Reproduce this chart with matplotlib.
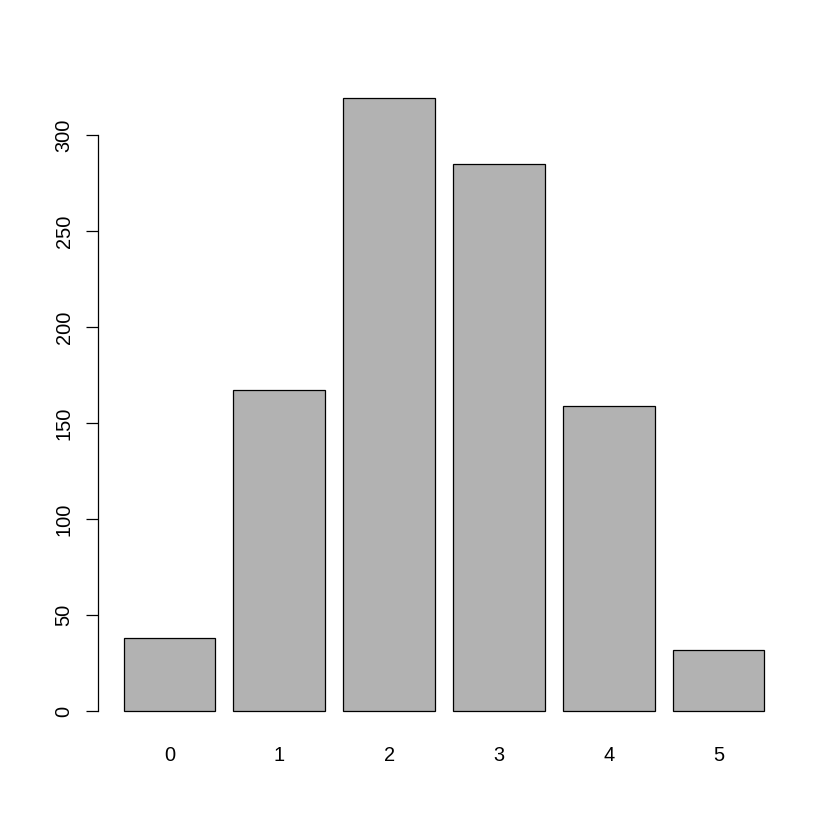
import matplotlib
matplotlib.use("Agg")
import matplotlib.pyplot as plt

# counts per category (sum = 1000)
categories = ["0", "1", "2", "3", "4", "5"]
counts = [38, 167, 319, 285, 159, 32]
yticks = [0, 50, 100, 150, 200, 250, 300]

plt.rcParams['font.family'] = ['Liberation Sans', 'DejaVu Sans']

fig = plt.figure(figsize=(8.4, 8.4), dpi=100)
ax = fig.add_axes([98/840, 1 - 735.5/840, (790 - 98)/840, (735.5 - 74)/840])

# R barplot layout: width 1, space 0.2
lefts = [0.2 + 1.2*i for i in range(len(counts))]
centers = [l + 0.5 for l in lefts]
ax.bar(centers, counts, width=1.0, color="#b2b2b2", edgecolor="black", linewidth=0.9)

xmin, xmax = 0.2, 0.2 + 1.2*len(counts) - 0.2
ext = 0.04*(xmax - xmin)
ax.set_xlim(xmin - ext, xmax + ext)
ymax = max(counts)
ax.set_ylim(-0.04*ymax, ymax*1.04)

for s in ["top", "right", "bottom"]:
    ax.spines[s].set_visible(False)
ax.spines["left"].set_bounds(yticks[0], yticks[-1])
ax.spines["left"].set_linewidth(0.9)

ax.set_yticks(yticks)
ax.set_yticklabels([str(v) for v in yticks], rotation=90, va="center", fontsize=14.4)
ax.tick_params(axis="y", length=8.6, width=0.9, pad=9)

ax.set_xticks(centers)
ax.set_xticklabels(categories, fontsize=14.4)
ax.tick_params(axis="x", length=0, pad=7.5)

fig.savefig("out.png", dpi=100, facecolor="white")
